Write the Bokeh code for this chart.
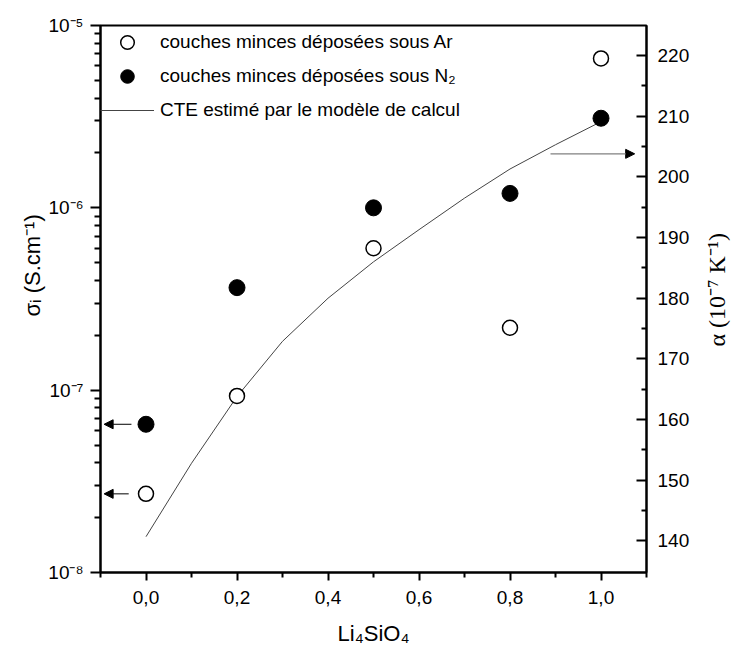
from math import pi
from bokeh.plotting import figure
from bokeh.models import (Range1d, LinearAxis, LinearScale, FixedTicker, CustomJSTickFormatter,
                          Legend, LegendItem, Arrow, NormalHead, Title, Label)
from bokeh.embed import file_html
from bokeh.resources import INLINE

# ---------------- data ----------------
li_fraction = [0.0, 0.2, 0.5, 0.8, 1.0]
sigma_ar = [2.7e-8, 9.3e-8, 6.0e-7, 2.2e-7, 6.6e-6]      # open circles (Ar)
sigma_n2 = [6.5e-8, 3.65e-7, 1.0e-6, 1.2e-6, 3.1e-6]     # filled circles (N2)

cte_fraction = [0.0, 0.1, 0.2, 0.3, 0.4, 0.5, 0.6, 0.7, 0.8, 0.9, 1.0]
cte_alpha = [140.7, 152.8, 163.8, 172.9, 180.0, 186.0, 191.3, 196.5, 201.3, 205.3, 209.1]

x_ticks = [0.0, 0.2, 0.4, 0.6, 0.8, 1.0]
x_tick_labels = ["0,0", "0,2", "0,4", "0,6", "0,8", "1,0"]
x_minor_ticks = [-0.1, 0.1, 0.3, 0.5, 0.7, 0.9, 1.1]
sigma_decades = [-8, -7, -6, -5]
sigma_tick_labels = ["10\u207b\u2078", "10\u207b\u2077", "10\u207b\u2076", "10\u207b\u2075"]
alpha_ticks = [140, 150, 160, 170, 180, 190, 200, 210, 220]
alpha_minor_ticks = [145, 155, 165, 175, 185, 195, 205, 215]

arrow_left_start_x = [-0.032, -0.038]
arrow_left_end_x = -0.092
arrow_left_y = [sigma_n2[0], sigma_ar[0]]
arrow_right_x = [0.889, 1.074]
arrow_right_alpha = 203.8

legend_labels = ["couches minces déposées sous Ar",
                 "couches minces déposées sous N\u2082",
                 "CTE estimé par le modèle de calcul"]
x_title = "Li\u2084SiO\u2084"
left_title = "σ\u1d62 (S.cm\u207b\u00b9)"
right_title = "α (10\u207b\u2077 K\u207b\u00b9)"

FONT = "Liberation Sans"
SERIF = "Liberation Serif"

p = figure(width=731, height=648, output_backend="svg", toolbar_location=None,
           x_range=Range1d(-0.1, 1.1), y_range=Range1d(1e-8, 1e-5),
           y_axis_type="log", min_border_left=100, min_border_right=85,
           min_border_top=25, min_border_bottom=76)
p.extra_y_ranges = {"alpha": Range1d(134.8, 224.95)}
p.extra_y_scales = {"alpha": LinearScale()}
p.grid.visible = False
p.outline_line_color = "black"
p.outline_line_width = 2
p.background_fill_color = "white"
p.border_fill_color = "white"

# bottom axis
xa = p.xaxis[0]
xa.ticker = FixedTicker(ticks=x_ticks, minor_ticks=x_minor_ticks)
xa.formatter = CustomJSTickFormatter(
    args=dict(xt=x_ticks, xl=x_tick_labels),
    code="const i = xt.findIndex(t => Math.abs(t - tick) < 1e-9); return i >= 0 ? xl[i] : '';")
xa.axis_line_width = 2
xa.major_tick_line_width = 2
xa.minor_tick_line_width = 2
xa.major_tick_out = 8
xa.major_tick_in = 0
xa.minor_tick_out = 5
xa.minor_tick_in = 0
xa.major_label_standoff = 10
xa.major_label_text_font = FONT
xa.major_label_text_font_size = "19px"
xa.major_label_text_color = "black"
xa.axis_label = x_title
xa.axis_label_text_font = FONT
xa.axis_label_text_font_size = "22px"
xa.axis_label_text_font_style = "normal"
xa.axis_label_text_color = "black"
xa.axis_label_standoff = 14

# left log axis
ya = p.yaxis[0]
decade_vals = [10.0 ** d for d in sigma_decades]
ya.ticker = FixedTicker(ticks=decade_vals,
                        minor_ticks=[k * 10.0 ** d for d in sigma_decades[:-1] for k in range(2, 10)])
ya.formatter = CustomJSTickFormatter(
    args=dict(dv=sigma_decades, dl=sigma_tick_labels),
    code="const e = Math.round(Math.log10(tick)); const i = dv.indexOf(e); return i >= 0 ? dl[i] : '';")
ya.axis_line_width = 2
ya.major_tick_line_width = 2
ya.minor_tick_line_width = 2
ya.major_tick_out = 10
ya.major_tick_in = 0
ya.minor_tick_out = 6
ya.minor_tick_in = 0
ya.major_label_standoff = 7
ya.major_label_text_font = FONT
ya.major_label_text_font_size = "19px"
ya.major_label_text_color = "black"

# right axis
ra = LinearAxis(y_range_name="alpha",
                ticker=FixedTicker(ticks=alpha_ticks, minor_ticks=alpha_minor_ticks))
ra.axis_line_width = 2
ra.major_tick_line_width = 2
ra.minor_tick_line_width = 2
ra.major_tick_in = 10
ra.major_tick_out = 0
ra.minor_tick_in = 5
ra.minor_tick_out = 0
ra.major_label_standoff = 11
ra.major_label_text_font = FONT
ra.major_label_text_font_size = "19px"
ra.major_label_text_color = "black"
p.add_layout(ra, "right")

# right title, bottom-to-top, beside the right axis
p.add_layout(Label(x=1.1, y=181.4, y_range_name="alpha", x_offset=70, text=right_title,
                   angle=pi / 2, text_font=SERIF, text_font_size="24px",
                   text_align="center", text_baseline="middle", text_color="black"), "right")

# left title (bottom-to-top, raised like the reference)
p.add_layout(Title(text=left_title, align="left", offset=256, vertical_align="middle",
                   text_font=FONT, text_font_size="22px", text_font_style="normal",
                   text_color="black", standoff=0), "left")

# data
r_cte = p.line(cte_fraction, cte_alpha, y_range_name="alpha", line_color="#444444", line_width=1)
r_ar = p.scatter(li_fraction, sigma_ar, marker="circle", size=15, fill_color="white",
                 line_color="black", line_width=1.5)
r_n2 = p.scatter(li_fraction, sigma_n2, marker="circle", size=16, fill_color="black",
                 line_color="black")

legend = Legend(items=[LegendItem(label=legend_labels[0], renderers=[r_ar]),
                       LegendItem(label=legend_labels[1], renderers=[r_n2]),
                       LegendItem(label=legend_labels[2], renderers=[r_cte])],
                location="top_left", border_line_color=None, background_fill_alpha=0,
                label_text_font=FONT, label_text_font_size="19px", label_text_color="black",
                glyph_width=54, glyph_height=34, label_standoff=6, spacing=-4,
                padding=13, margin=0)
p.add_layout(legend)

# arrows
for xs, ys in zip(arrow_left_start_x, arrow_left_y):
    p.add_layout(Arrow(x_start=xs, y_start=ys, x_end=arrow_left_end_x, y_end=ys,
                       line_color="black", line_width=1,
                       end=NormalHead(size=9, fill_color="black", line_color="black")))
p.add_layout(Arrow(x_start=arrow_right_x[0], y_start=arrow_right_alpha,
                   x_end=arrow_right_x[1], y_end=arrow_right_alpha, y_range_name="alpha",
                   line_color="#808080", line_width=1.2,
                   end=NormalHead(size=9, fill_color="black", line_color="black")))

open("out.html", "w").write(file_html(p, INLINE))
